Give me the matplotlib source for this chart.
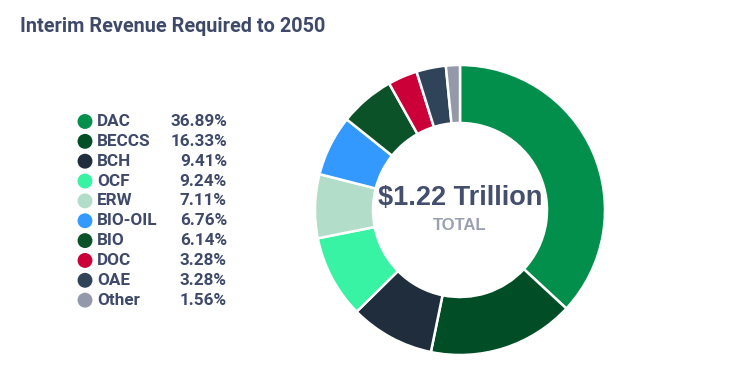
import matplotlib
matplotlib.use('Agg')
import matplotlib.pyplot as plt

plt.rcParams['font.family'] = ['Roboto', 'DejaVu Sans']

labels = ['DAC', 'BECCS', 'BCH', 'OCF', 'ERW', 'BIO-OIL', 'BIO', 'DOC', 'OAE', 'Other']
shares = [36.89, 16.33, 9.41, 9.24, 7.11, 6.76, 6.14, 3.28, 3.28, 1.56]
colours = ['#028F4B', '#004D26', '#1F2D3C', '#38F3A4', '#B2DDC8', '#3399FF',
           '#0B5229', '#CC0039', '#2F4459', '#9499AA']
total_text = '$1.22 Trillion'
title = 'Interim Revenue Required to 2050'

W, H = 749, 388
fig = plt.figure(figsize=(W / 100, H / 100), dpi=100)

# donut
ax = fig.add_axes([315 / W, 33 / H, 290 / W, 290 / H])
ax.pie(shares, colors=colours, startangle=90, counterclock=False, radius=1,
       wedgeprops=dict(width=0.4, edgecolor='white', linewidth=1.8))
ax.set_xlim(-1.0, 1.0)
ax.set_ylim(-1.0, 1.0)
ax.set_aspect('equal')
ax.text(0, 0.08, total_text, ha='center', va='center', fontsize=19.5,
        fontweight='bold', color='#444F6E', family=['Liberation Sans', 'DejaVu Sans'])
ax.text(0, -0.11, 'TOTAL', ha='center', va='center', fontsize=12,
        fontweight='bold', color='#9AA0B2', family=['Liberation Sans', 'DejaVu Sans'])

# overlay in pixel coords for title and legend
ov = fig.add_axes([0, 0, 1, 1])
ov.set_xlim(0, W)
ov.set_ylim(H, 0)
ov.axis('off')
ov.text(20, 27, title, ha='left', va='center', fontsize=14.3, fontweight='bold',
        color='#3F4A6A')

for i, (lab, val, c) in enumerate(zip(labels, shares, colours)):
    y = 121.5 + i * 19.85
    ov.scatter([85], [y], s=115, color=c, edgecolors='none')
    ov.text(97, y, lab, ha='left', va='center', fontsize=12.3, fontweight='bold',
            color='#3F4A6A')
    ov.text(227, y, f'{val:.2f}%', ha='right', va='center', fontsize=12.3,
            fontweight='bold', color='#3F4A6A')

fig.savefig('out.png', dpi=100)
